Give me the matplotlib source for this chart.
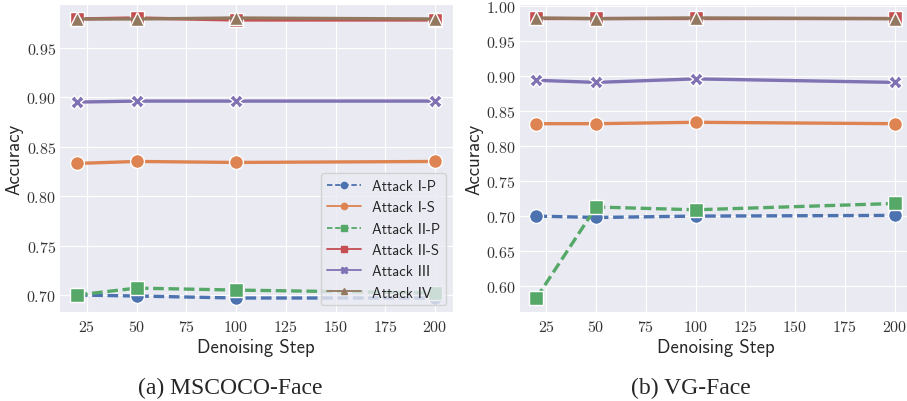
import matplotlib
matplotlib.use("Agg")
from matplotlib import pyplot as plt
from matplotlib.lines import Line2D
from matplotlib.ticker import FuncFormatter
import seaborn as sns

sns.set_style("darkgrid")
plt.rcParams['axes.unicode_minus'] = False
plt.rcParams['mathtext.fontset'] = 'cm'

steps = [20, 50, 100, 200]
names = ['Attack I-P', 'Attack I-S', 'Attack II-P', 'Attack II-S', 'Attack III', 'Attack IV']

# (a) MSCOCO-Face
coco_ip = [0.700, 0.699, 0.697, 0.697]
coco_is = [0.833, 0.835, 0.834, 0.835]
coco_iip = [0.700, 0.707, 0.705, 0.702]
coco_iis = [0.979, 0.980, 0.978, 0.978]
coco_iii = [0.895, 0.896, 0.896, 0.896]
coco_iv = [0.979, 0.979, 0.980, 0.979]

# (b) VG-Face
vg_ip = [0.700, 0.698, 0.700, 0.701]
vg_is = [0.832, 0.832, 0.834, 0.832]
vg_iip = [0.583, 0.713, 0.709, 0.718]
vg_iis = [0.983, 0.983, 0.983, 0.983]
vg_iii = [0.894, 0.891, 0.896, 0.891]
vg_iv = [0.983, 0.982, 0.983, 0.982]

pal = sns.color_palette("deep")
colors = [pal[0], pal[1], pal[2], pal[3], pal[4], pal[5]]
markers = ['o', 'o', 's', 's', 'X', '^']
dashed = [True, False, True, False, False, False]
msizes = [10, 10, 9.5, 9.5, 10, 10]

fig = plt.figure(figsize=(9.07, 4.02), dpi=100)
ax1 = fig.add_axes([0.065, 0.2214, 0.4344, 0.7662])
ax2 = fig.add_axes([0.5717, 0.2214, 0.4344, 0.7662])

def draw(ax, series):
    for i, ys in enumerate(series):
        ls = (0, (3.2, 1.4)) if dashed[i] else '-'
        ax.plot(steps, ys, color=colors[i], linestyle=ls, lw=2.4,
                marker=markers[i], ms=msizes[i], mec='white', mew=1.0)
    ax.set_xlabel('Denoising Step', fontfamily='cmss10', fontsize=13.5, labelpad=3)
    ax.set_ylabel('Accuracy', fontfamily='cmss10', fontsize=13.5, labelpad=2)
    ax.yaxis.set_major_formatter(FuncFormatter(lambda v, p: '$%.2f$' % v))
    ax.xaxis.set_major_formatter(FuncFormatter(lambda v, p: '$%d$' % v))
    ax.tick_params(length=0, labelsize=11.5, colors='#333333')
    ax.tick_params(axis='y', pad=2)
    ax.tick_params(axis='x', pad=5)

draw(ax1, [coco_ip, coco_is, coco_iip, coco_iis, coco_iii, coco_iv])
draw(ax2, [vg_ip, vg_is, vg_iip, vg_iis, vg_iii, vg_iv])
ax1.set_xticks([25, 50, 75, 100, 125, 150, 175, 200])
ax2.set_xticks([25, 50, 75, 100, 125, 150, 175, 200])
ax2.set_yticks([0.60, 0.65, 0.70, 0.75, 0.80, 0.85, 0.90, 0.95, 1.00])

handles = []
for i in range(6):
    ls = (0, (3, 1.5)) if dashed[i] else '-'
    handles.append(Line2D([], [], color=colors[i], linestyle=ls, lw=1.3,
                          marker=markers[i], ms=4.5, mec=colors[i]))
ax1.legend(handles, names, loc='lower right', prop={'family': 'cmss10', 'size': 10.5},
           handlelength=2.3, labelspacing=0.5, borderpad=0.4, framealpha=0.8,
           borderaxespad=0.45)

fig.text(0.254, 0.02, '(a) MSCOCO-Face', ha='center', fontfamily='Liberation Serif', fontsize=17)
fig.text(0.762, 0.02, '(b) VG-Face', ha='center', fontfamily='Liberation Serif', fontsize=17)

fig.savefig('out.png', dpi=100)
